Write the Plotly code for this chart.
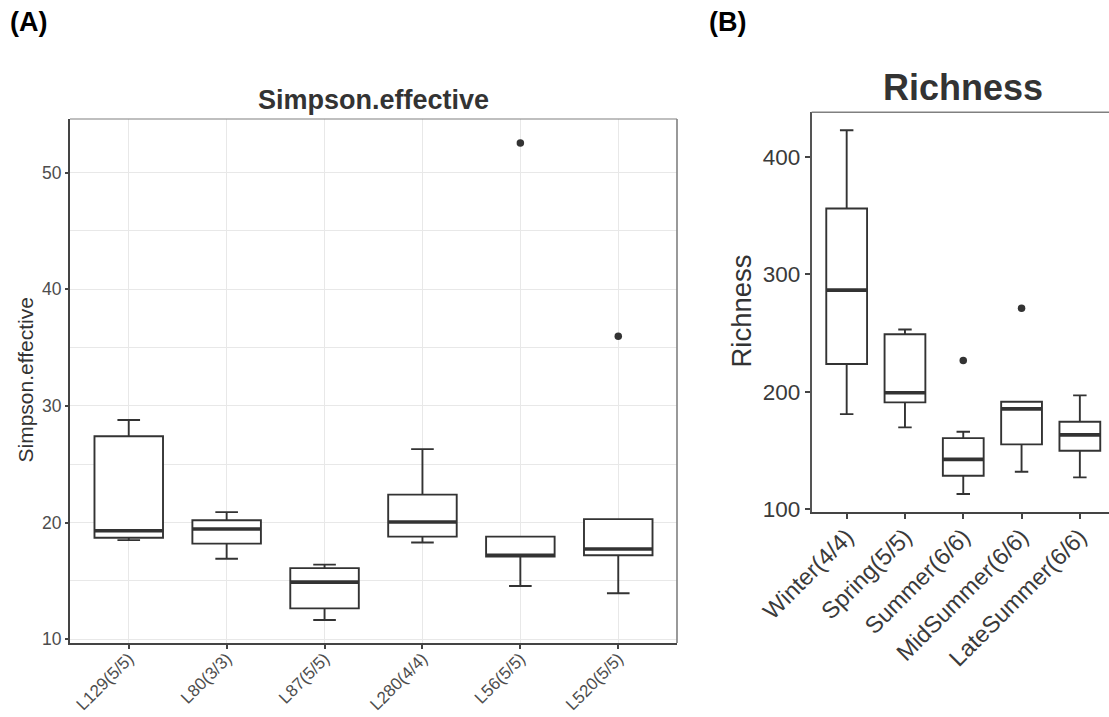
import plotly.graph_objects as go

# ---------------- data ----------------
A_cats = ["L129(5/5)", "L80(3/3)", "L87(5/5)", "L280(4/4)", "L56(5/5)", "L520(5/5)"]
A_low = [18.5, 16.9, 11.65, 18.3, 14.57, 13.94]
A_q1 = [18.7, 18.2, 12.65, 18.8, 17.1, 17.2]
A_med = [19.3, 19.45, 14.9, 20.05, 17.2, 17.74]
A_q3 = [27.4, 20.2, 16.1, 22.4, 18.8, 20.3]
A_high = [28.8, 20.9, 16.4, 26.3, 18.8, 20.3]
A_out_cat = ["L56(5/5)", "L520(5/5)"]
A_out_val = [52.54, 35.97]
A_yticks = [10, 20, 30, 40, 50]

B_cats = ["Winter(4/4)", "Spring(5/5)", "Summer(6/6)", "MidSummer(6/6)", "LateSummer(6/6)"]
B_low = [181, 169.7, 113, 132, 127.2]
B_q1 = [223.6, 191, 128.6, 155.3, 149.8]
B_med = [286.5, 199.2, 142.5, 185.5, 163.4]
B_q3 = [356, 249, 160.6, 191.5, 174.5]
B_high = [422.5, 253, 166, 191.5, 197]
B_out_cat = ["Summer(6/6)", "MidSummer(6/6)"]
B_out_val = [226.7, 271]
B_yticks = [100, 200, 300, 400]

# ---------------- style ----------------
FONT = "Liberation Sans, Arial, sans-serif"
DARK = "#333333"
BOXW = 0.7
HALF = BOXW / 2

W, H = 1109, 717


def px_x(v):
    return v / W


def px_y(v):
    return 1 - v / H


fig = go.Figure()


def add_panel(cats, low, q1, med, q3, high, out_cat, out_val, xa, ya):
    idx = list(range(len(cats)))
    fig.add_trace(go.Box(
        x=idx, q1=q1, median=med, q3=q3, lowerfence=low, upperfence=high,
        width=BOXW, whiskerwidth=0.33, boxpoints=False,
        fillcolor="white", line=dict(color=DARK, width=1.9),
        xaxis=xa, yaxis=ya, showlegend=False, hoverinfo="skip"))
    mx, my = [], []
    for i, m in zip(idx, med):
        mx += [i - HALF, i + HALF, None]
        my += [m, m, None]
    fig.add_trace(go.Scatter(
        x=mx, y=my, mode="lines", line=dict(color=DARK, width=3.6),
        xaxis=xa, yaxis=ya, showlegend=False, hoverinfo="skip"))
    fig.add_trace(go.Scatter(
        x=[cats.index(c) for c in out_cat], y=out_val, mode="markers",
        marker=dict(color=DARK, size=7.5),
        xaxis=xa, yaxis=ya, showlegend=False, hoverinfo="skip"))


add_panel(A_cats, A_low, A_q1, A_med, A_q3, A_high, A_out_cat, A_out_val, "x", "y")
add_panel(B_cats, B_low, B_q1, B_med, B_q3, B_high, B_out_cat, B_out_val, "x2", "y2")

grid = "#e8e8e8"

fig.update_layout(
    width=W, height=H, margin=dict(l=0, r=0, t=0, b=0, autoexpand=False),
    paper_bgcolor="white", plot_bgcolor="white",
    font=dict(family=FONT, color=DARK),
    xaxis=dict(
        domain=[px_x(70), px_x(677)], range=[-0.6, 5.6], automargin=False,
        tickmode="array", tickvals=list(range(len(A_cats))), ticktext=A_cats,
        tickangle=-45, tickfont=dict(size=17, color="#4d4d4d"),
        ticklabelstandoff=-7,
        showgrid=True, gridcolor=grid, gridwidth=1.3,
        showline=True, linecolor="#444444", linewidth=2,
        ticks="outside", ticklen=4, tickcolor="#444444", tickwidth=1.5,
        zeroline=False, anchor="y"),
    yaxis=dict(
        domain=[px_y(643), px_y(119)], range=[9.68, 54.6], automargin=False,
        tickmode="array", tickvals=A_yticks,
        tickfont=dict(size=17.5, color="#4d4d4d"),
        showgrid=True, gridcolor=grid, gridwidth=1.3,
        minor=dict(dtick=5, tick0=0, showgrid=True, gridcolor=grid, gridwidth=1.1),
        showline=True, linecolor="#444444", linewidth=2,
        ticks="outside", ticklen=3, tickcolor="#444444", tickwidth=1.5,
        zeroline=False, anchor="x"),
    xaxis2=dict(
        domain=[px_x(811.7), 1.0], range=[-0.6, 4.5], automargin=False,
        tickmode="array", tickvals=list(range(len(B_cats))), ticktext=B_cats,
        tickangle=-45, tickfont=dict(size=23.5, color="#3a3a3a"),
        ticklabelstandoff=-5,
        showgrid=False,
        showline=True, linecolor="#444444", linewidth=2,
        ticks="outside", ticklen=5, tickcolor="#444444", tickwidth=2,
        zeroline=False, anchor="y2"),
    yaxis2=dict(
        domain=[px_y(511.7), px_y(112.3)], range=[98, 437.8], automargin=False,
        tickmode="array", tickvals=B_yticks,
        tickfont=dict(size=22.5, color="#3a3a3a"),
        showgrid=False,
        showline=True, linecolor="#555555", linewidth=2,
        ticks="outside", ticklen=5, tickcolor="#444444", tickwidth=2,
        zeroline=False, anchor="x2"),
    shapes=[
        dict(type="line", xref="x domain", yref="y domain", x0=0, x1=1, y0=1, y1=1,
             line=dict(color="#808080", width=1.2)),
        dict(type="line", xref="x domain", yref="y domain", x0=1, x1=1, y0=0, y1=1,
             line=dict(color="#808080", width=1.6)),
        dict(type="line", xref="x2 domain", yref="y2 domain", x0=0, x1=1, y0=1, y1=1,
             line=dict(color="#808080", width=1.4)),
    ],
    annotations=[
        dict(text="<b>(A)</b>", x=px_x(8), y=px_y(22), xref="paper", yref="paper",
             xanchor="left", yanchor="middle", showarrow=False,
             font=dict(size=27, color="black", family=FONT)),
        dict(text="<b>(B)</b>", x=px_x(707), y=px_y(22), xref="paper", yref="paper",
             xanchor="left", yanchor="middle", showarrow=False,
             font=dict(size=27, color="black", family=FONT)),
        dict(text="<b>Simpson.effective</b>", x=px_x(373.5), y=px_y(99.5), xref="paper", yref="paper",
             xanchor="center", yanchor="middle", showarrow=False,
             font=dict(size=27, color=DARK, family=FONT)),
        dict(text="<b>Richness</b>", x=px_x(962.8), y=px_y(87), xref="paper", yref="paper",
             xanchor="center", yanchor="middle", showarrow=False,
             font=dict(size=36, color=DARK, family=FONT)),
        dict(text="Simpson.effective", x=px_x(25), y=px_y(380.5), xref="paper", yref="paper",
             xanchor="center", yanchor="middle", showarrow=False, textangle=-90,
             font=dict(size=21, color=DARK, family=FONT)),
        dict(text="Richness", x=px_x(741), y=px_y(311.5), xref="paper", yref="paper",
             xanchor="center", yanchor="middle", showarrow=False, textangle=-90,
             font=dict(size=27.5, color=DARK, family=FONT)),
    ],
)

fig.write_html("out.html")
